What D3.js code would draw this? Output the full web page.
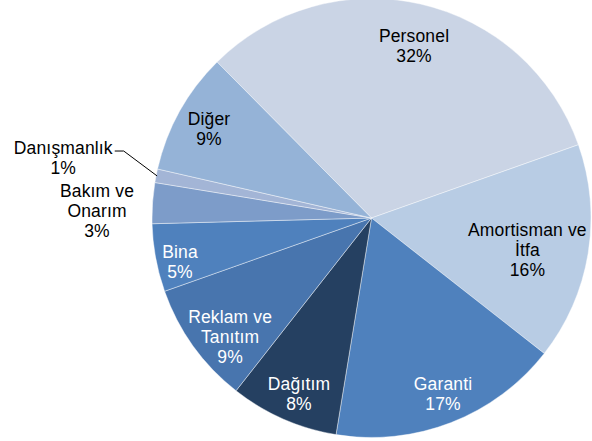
<!DOCTYPE html>
<html>
<head>
<meta charset="utf-8">
<script src="https://cdn.jsdelivr.net/npm/d3@7"></script>
<style>
  html, body { margin: 0; padding: 0; background: #fff; }
  svg { display: block; }
  text { font-family: "Liberation Sans", Arial, sans-serif; font-size: 17.5px; letter-spacing: 0.15px; }
</style>
</head>
<body>
<svg id="chart" width="592" height="441"></svg>
<script>
// Expense breakdown (percent of total)
const categories = ["Personel", "Amortisman ve İtfa", "Garanti", "Dağıtım", "Reklam ve Tanıtım", "Bina", "Bakım ve Onarım", "Danışmanlık", "Diğer"];
const values = [32, 16, 17, 8, 9, 5, 3, 1, 9];
const labelLines = [
  ["Personel"],
  ["Amortisman ve", "İtfa"],
  ["Garanti"],
  ["Dağıtım"],
  ["Reklam ve", "Tanıtım"],
  ["Bina"],
  ["Bakım ve", "Onarım"],
  ["Danışmanlık"],
  ["Diğer"]
];
const colors = ["#cad4e5", "#b8cce4", "#4f81bd", "#254061", "#4875ae", "#4f81bd", "#7d9cc9", "#a3b5d6", "#95b3d7"];
const textColors = ["#000", "#000", "#fff", "#fff", "#fff", "#fff", "#000", "#000", "#000"];

// Label placement: radius as fraction of pie radius, angular nudge (deg) from slice middle
const labelRadius = [0.807, 0.725, 0.866, 0.867, 0.842, 0.895, 1.251, 1.431, 0.844];
const labelNudge = [1.0, 2.3, -0.8, -1.3, -4.4, -2.4, -2.4, 0, -0.4];
const leaderFor = [false, false, false, false, false, false, false, true, false];

const cx = 371.5, cy = 218, R = 219.5;
const lineH = 20;
const rad = d => d * Math.PI / 180;
const start = rad(-44.7);

const svg = d3.select("#chart");
const g = svg.append("g").attr("transform", `translate(${cx},${cy})`);

const pie = d3.pie().sort(null).value(d => d).startAngle(start).endAngle(start + 2 * Math.PI);
const arcs = pie(values);
const arc = d3.arc().innerRadius(0).outerRadius(R);

g.selectAll("path.slice")
  .data(arcs)
  .enter().append("path")
  .attr("class", "slice")
  .attr("d", arc)
  .attr("fill", (d, i) => colors[i])
  .attr("stroke", "rgba(255,255,255,0.7)")
  .attr("stroke-width", 0.6)
  .attr("stroke-linejoin", "round");

const pct = v => Math.round(v) + "%";

arcs.forEach((d, i) => {
  const mid = (d.startAngle + d.endAngle) / 2 + rad(labelNudge[i]);
  const r = labelRadius[i] * R;
  const x = r * Math.sin(mid);
  const y = -r * Math.cos(mid);
  const lines = labelLines[i].concat([pct(values[i])]);
  const n = lines.length;
  const firstBase = y - (n - 1) * lineH / 2 + 6;
  const t = g.append("text")
    .attr("text-anchor", "middle")
    .attr("fill", textColors[i]);
  lines.forEach((s, k) => {
    t.append("tspan").attr("x", x).attr("y", firstBase + k * lineH).text(s);
  });

  if (leaderFor[i]) {
    const first = t.select("tspan").node();
    const w = first.getComputedTextLength();
    const x0 = x + w / 2 + 2;
    const y0 = firstBase - 2.5;
    const am = (d.startAngle + d.endAngle) / 2;
    const ex = (R - 1) * Math.sin(am), ey = -(R - 1) * Math.cos(am);
    g.append("path")
      .attr("d", d3.line()([[x0, y0], [x0 + 9, y0], [ex, ey]]))
      .attr("fill", "none")
      .attr("stroke", "#000")
      .attr("stroke-width", 1);
  }
});
</script>
</body>
</html>
